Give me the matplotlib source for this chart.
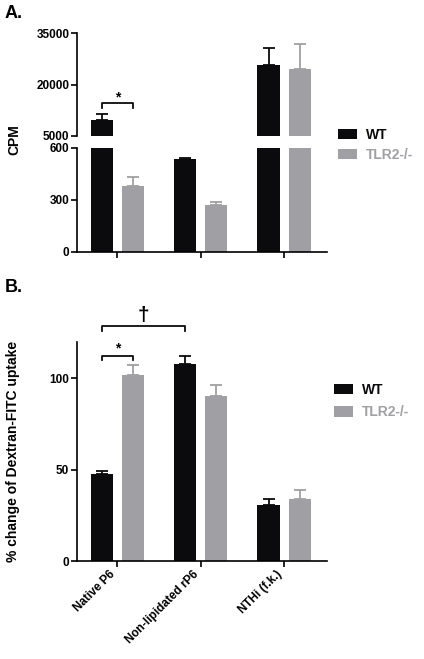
import matplotlib
matplotlib.use("Agg")
import matplotlib.pyplot as plt
import numpy as np

plt.rcParams['font.family'] = ['Liberation Sans', 'DejaVu Sans']
plt.rcParams['font.weight'] = 'bold'

categories = ["Native P6", "Non-lipidated rP6", "NTHi (f.k.)"]
series = ["WT", "TLR2-/-"]

# Panel A: CPM
cpm_wt = [9660, 538, 25800]
cpm_wt_err = [1700, 6, 4800]
cpm_ko = [381, 271, 24500]
cpm_ko_err = [53, 19, 7200]

# Panel B: % change of Dextran-FITC uptake
dex_wt = [47.4, 107.7, 30.4]
dex_wt_err = [2.0, 4.4, 3.3]
dex_ko = [102.0, 90.3, 34.0]
dex_ko_err = [5.0, 6.0, 4.8]

a_upper_ticks = [5000, 20000, 35000]
a_lower_ticks = [0, 300, 600]
b_ticks = [0, 50, 100]

BLACK = '#0b0b0d'
GRAY = '#a0a0a4'

W, H = 424, 659
fig = plt.figure(figsize=(W / 100, H / 100), dpi=100)

def frac(x0, y0, x1, y1):
    # pixel box (top-left origin) -> figure fraction rect
    return [x0 / W, 1 - y1 / H, (x1 - x0) / W, (y1 - y0) / H]

x = np.arange(len(categories))
off = 0.186
bw = 0.265
xlim = (-0.483, 2.515)
lw = 1.2
TICKFS = 8.5

def style(ax):
    for s in ['top', 'right']:
        ax.spines[s].set_visible(False)
    for s in ['left', 'bottom']:
        ax.spines[s].set_linewidth(lw)
    ax.tick_params(axis='both', direction='out', length=4, width=lw,
                   labelsize=TICKFS, pad=1.5)

def draw_bars(ax, wt, wte, ko, koe):
    b1 = ax.bar(x - off, wt, bw, color=BLACK, label=series[0], zorder=2)
    b2 = ax.bar(x + off, ko, bw, color=GRAY, label=series[1], zorder=2)
    ax.errorbar(x - off, wt, yerr=[np.zeros(3), wte], fmt='none',
                ecolor=BLACK, elinewidth=1.3, capsize=4, capthick=1.3, zorder=1)
    ax.errorbar(x + off, ko, yerr=[np.zeros(3), koe], fmt='none',
                ecolor=GRAY, elinewidth=1.3, capsize=4, capthick=1.3, zorder=1)
    return b1, b2

# ---------------- Panel A ----------------
axu = fig.add_axes(frac(77, 33, 327, 136))
axl = fig.add_axes(frac(77, 148, 327, 252))
for ax in (axu, axl):
    draw_bars(ax, cpm_wt, cpm_wt_err, cpm_ko, cpm_ko_err)
    ax.set_xlim(*xlim)
    style(ax)
axu.set_ylim(5000, 35000)
axu.set_yticks(a_upper_ticks)
axu.spines['bottom'].set_visible(False)
axu.set_xticks([])
axl.set_ylim(0, 600)
axl.set_yticks(a_lower_ticks)
axl.set_xticks(x)
axl.set_xticklabels([])
for ax in (axu, axl):
    for t in ax.get_yticklabels():
        t.set_fontweight('bold')

# significance bracket A
by, bt = 14600, 13150
axu.plot([x[0] - off, x[0] - off, x[0] + off, x[0] + off], [bt, by, by, bt],
         color=BLACK, lw=1.3, clip_on=False)
axu.text(x[0], by - 300, '*', ha='center', va='bottom', fontsize=10,
         fontweight='bold')

fig.text(14 / W, 1 - 140 / H, 'CPM', rotation=90, ha='center', va='center',
         fontsize=10, fontweight='bold')
fig.text(5 / W, 1 - 13 / H, 'A.', ha='left', va='center', fontsize=13,
         fontweight='bold')

hA = axl.get_legend_handles_labels()
legA = fig.legend(*hA, loc='upper left', bbox_to_anchor=(338 / W, 1 - 128 / H),
                  frameon=False, fontsize=10, handlelength=1.4,
                  handleheight=0.75, handletextpad=0.6, labelspacing=0.45,
                  borderpad=0, borderaxespad=0)
for t, c in zip(legA.get_texts(), [BLACK, GRAY]):
    t.set_color(c)
    t.set_fontweight('bold')

# ---------------- Panel B ----------------
axb = fig.add_axes(frac(77, 341.7, 327, 561))
draw_bars(axb, dex_wt, dex_wt_err, dex_ko, dex_ko_err)
axb.set_xlim(*xlim)
axb.set_ylim(0, 120)
axb.set_yticks(b_ticks)
axb.set_xticks(x)
axb.set_xticklabels(categories, rotation=45, ha='right', fontsize=TICKFS,
                    fontweight='bold')
style(axb)
for t in axb.get_yticklabels():
    t.set_fontweight('bold')

# brackets B
by, bt = 112.0, 109.8
axb.plot([x[0] - off, x[0] - off, x[0] + off, x[0] + off], [bt, by, by, bt],
         color=BLACK, lw=1.3, clip_on=False)
axb.text(x[0], by + 0.3, '*', ha='center', va='bottom', fontsize=10,
         fontweight='bold')
by, bt = 128.4, 125.6
axb.plot([x[0] - off, x[0] - off, x[1] - off, x[1] - off], [bt, by, by, bt],
         color=BLACK, lw=1.3, clip_on=False)
axb.text((x[0] + x[1]) / 2 - off, by + 0.8, '\u2020', ha='center', va='bottom',
         fontsize=15, fontweight='bold')

fig.text(13 / W, 1 - 451 / H, '% change of Dextran-FITC uptake', rotation=90,
         ha='center', va='center', fontsize=10, fontweight='bold')
fig.text(5 / W, 1 - 287 / H, 'B.', ha='left', va='center', fontsize=13,
         fontweight='bold')

hB = axb.get_legend_handles_labels()
legB = fig.legend(*hB, loc='upper left', bbox_to_anchor=(334 / W, 1 - 383 / H),
                  frameon=False, fontsize=10, handlelength=1.4,
                  handleheight=0.75, handletextpad=0.6, labelspacing=0.6,
                  borderpad=0, borderaxespad=0)
for t, c in zip(legB.get_texts(), [BLACK, GRAY]):
    t.set_color(c)
    t.set_fontweight('bold')

fig.savefig('out.png', dpi=100)
